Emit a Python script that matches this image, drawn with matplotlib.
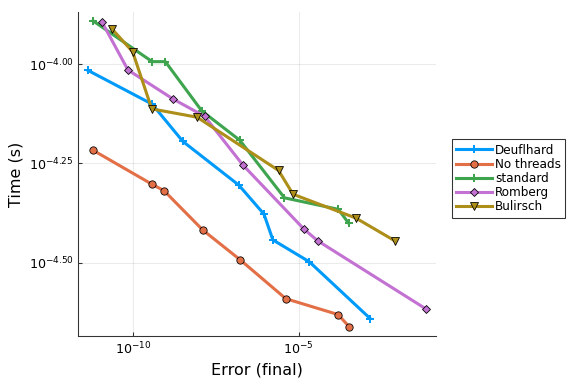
import numpy as np
import matplotlib
matplotlib.use("Agg")
import matplotlib.pyplot as plt
from matplotlib.ticker import FixedLocator, FixedFormatter, NullLocator

# log10 of error (final) and time (s)
names = ["Deuflhard", "No threads", "standard", "Romberg", "Bulirsch"]
colors = ["#009AFA", "#E36F47", "#3EA44E", "#C371D2", "#AC8E18"]
markers = ["P", "o", "P", "D", "v"]

deuf_err = [-11.37, -9.43, -8.50, -6.81, -6.05, -5.78, -4.68, -2.84]
deuf_time = [-4.016, -4.101, -4.195, -4.305, -4.378, -4.443, -4.498, -4.641]
nothr_err = [-11.22, -9.43, -9.07, -7.90, -6.77, -5.39, -3.81, -3.47]
nothr_time = [-4.217, -4.303, -4.319, -4.418, -4.493, -4.591, -4.631, -4.662]
std_err = [-11.22, -9.43, -9.03, -7.93, -6.78, -5.43, -3.80, -3.49]
std_time = [-3.891, -3.994, -3.994, -4.118, -4.192, -4.337, -4.366, -4.401]
romb_err = [-10.94, -10.16, -8.80, -7.84, -6.69, -4.85, -4.43, -1.15]
romb_time = [-3.895, -4.015, -4.088, -4.132, -4.254, -4.415, -4.445, -4.617]
bul_err = [-10.65, -10.02, -9.44, -8.07, -5.61, -5.17, -3.27, -2.10]
bul_time = [-3.911, -3.969, -4.113, -4.134, -4.268, -4.328, -4.388, -4.445]

series = [(deuf_err, deuf_time), (nothr_err, nothr_time), (std_err, std_time),
          (romb_err, romb_time), (bul_err, bul_time)]

yticks = [-4.50, -4.25, -4.00]
xticks = [-10, -5]

fig = plt.figure(figsize=(6, 4), dpi=96)
ax = fig.add_axes([78 / 576, 48 / 384, 358 / 576, 324 / 384])

sizes = {"P": 6, "o": 5.5, "D": 4.3, "v": 5.8}
for name, c, m, (ex, ty) in zip(names, colors, markers, series):
    x = 10.0 ** np.array(ex)
    y = 10.0 ** np.array(ty)
    if m == "P":
        ax.plot(x, y, color=c, lw=2.3, marker=m, ms=sizes[m], mec=c, mew=0, label=name)
    else:
        ax.plot(x, y, color=c, lw=2.3, marker=m, ms=sizes[m], mec="black", mew=0.6, label=name)

ax.set_xscale("log")
ax.set_yscale("log")
ax.set_xlim(10 ** -11.67, 10 ** -0.85)
ax.set_ylim(10 ** -4.685, 10 ** -3.869)

ax.xaxis.set_major_locator(FixedLocator([10.0 ** t for t in xticks]))
ax.xaxis.set_major_formatter(FixedFormatter([r"$10^{%d}$" % t for t in xticks]))
ax.yaxis.set_major_locator(FixedLocator([10.0 ** t for t in yticks]))
ax.yaxis.set_major_formatter(FixedFormatter([r"$10^{%.2f}$" % t for t in yticks]))
ax.xaxis.set_minor_locator(NullLocator())
ax.yaxis.set_minor_locator(NullLocator())

ax.grid(True, color="black", alpha=0.08, lw=0.8)
ax.tick_params(direction="in", length=3, labelsize=9.5, color="#333333")
for s in ["top", "right"]:
    ax.spines[s].set_visible(False)
for s in ["left", "bottom"]:
    ax.spines[s].set_color("#333333")

ax.set_xlabel("Error (final)", fontsize=12)
ax.set_ylabel("Time (s)", fontsize=12)

leg = fig.legend(loc="center left", bbox_to_anchor=(452 / 576, 1 - 178.5 / 384),
                 fontsize=9, frameon=True, fancybox=False, handlelength=3.0,
                 handletextpad=0.25, borderpad=0.35, labelspacing=0.1, borderaxespad=0)
leg.get_frame().set_edgecolor("black")
leg.get_frame().set_linewidth(0.8)

fig.savefig("out.png", dpi=96)
